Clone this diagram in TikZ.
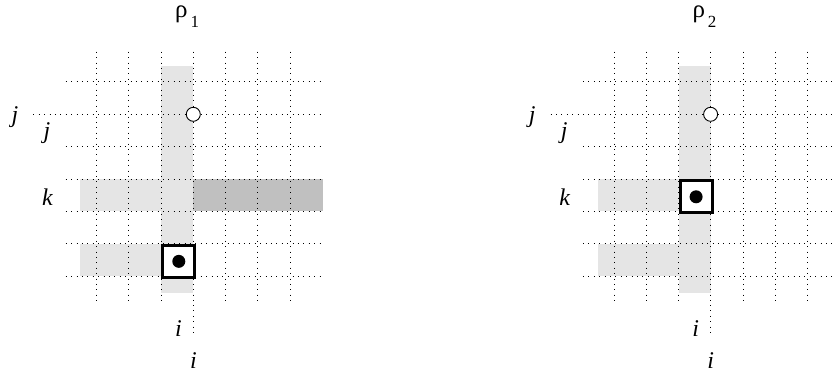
\documentclass[tikz,border=0pt]{standalone}
\usepackage{fontspec}
\setmainfont{Liberation Serif}
\definecolor{lightg}{RGB}{229,229,229}
\definecolor{darkg}{RGB}{192,192,192}
\tikzset{
  gridline/.style={line width=1pt, dash pattern=on 1pt off 4.4pt},
  lbl/.style={font=\fontsize{24}{24}\selectfont\itshape, inner sep=0pt, anchor=base},
  title/.style={font=\fontsize{25}{25}\selectfont, inner sep=0pt, anchor=base west},
  cellbox/.style={line width=3pt, fill=white, draw=black},
  bigdot/.style={fill=black},
  opendot/.style={fill=white, draw=black, line width=0.9pt}
}
\newcommand{\gridlines}{%
  \foreach \cx in {96.7,128.9,161.3,193.3,225.7,257.7,290.0}{
    \draw[gridline] (\cx,51.7) -- (\cx,305);}
  \foreach \ry in {81.7,146.7,179.3,211.3,243.7,276.0}{
    \draw[gridline] (65.7,\ry) -- (322,\ry);}
  \draw[gridline] (33.3,114.3) -- (322,114.3);
  \draw[gridline] (193.3,305) -- (193.3,337);
}
\newcommand{\rholabel}[1]{ρ\hspace{3pt}\raisebox{-10pt}{\fontsize{17}{17}\selectfont #1}}
\begin{document}
\begin{tikzpicture}[x=1pt,y=-1pt]
\useasboundingbox (0,0) rectangle (833,376);
\clip (0,0) rectangle (833,376);
% ---------- left panel ----------
\begin{scope}
  \fill[lightg] (161.3,65.7) rectangle (193.3,292.7);
  \fill[lightg] (80,179.3) rectangle (193.3,211.3);
  \fill[lightg] (80,243.7) rectangle (161.3,276);
  \fill[darkg] (193.3,179.3) rectangle (322.7,211.3);
  \gridlines
  \node[cellbox, minimum width=32pt, minimum height=32.3pt, inner sep=0pt, anchor=north west] (boxL) at (161.3,243.7) {};
  \fill[bigdot] (boxL.center) circle (6.5pt);
  \node[opendot, circle, minimum size=14pt, inner sep=0pt] (circL) at (193.3,114.3) {};
  \node[title] (rhoL) at (175,17) {\rholabel{1}};
  \node[lbl] (jaL) at (15,122) {j};
  \node[lbl] (jbL) at (47,138) {j};
  \node[lbl] (kL) at (47.5,205) {k};
  \node[lbl] (iaL) at (178.5,336) {i};
  \node[lbl] (ibL) at (193.5,368) {i};
\end{scope}
% ---------- right panel ----------
\begin{scope}[xshift=517.3pt]
  \fill[lightg] (161.3,65.7) rectangle (193.3,292.7);
  \fill[lightg] (80.4,179.3) rectangle (161.3,211.3);
  \fill[lightg] (80.4,243.7) rectangle (161.3,276);
  \gridlines
  \node[cellbox, minimum width=32pt, minimum height=32pt, inner sep=0pt, anchor=north west] (boxR) at (161.3,179.3) {};
  \fill[bigdot] (boxR.center) circle (6.5pt);
  \node[opendot, circle, minimum size=14pt, inner sep=0pt] (circR) at (193.3,114.3) {};
  \node[title] (rhoR) at (175,17) {\rholabel{2}};
  \node[lbl] (jaR) at (15,122) {j};
  \node[lbl] (jbR) at (47,138) {j};
  \node[lbl] (kR) at (47.5,205) {k};
  \node[lbl] (iaR) at (178.5,336) {i};
  \node[lbl] (ibR) at (193.5,368) {i};
\end{scope}
\end{tikzpicture}
\end{document}
